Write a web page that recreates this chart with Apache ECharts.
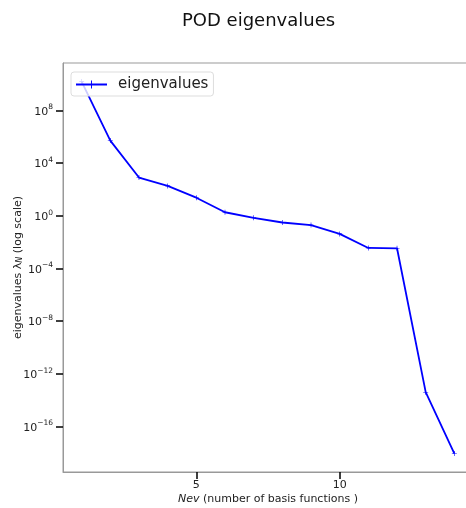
<!DOCTYPE html>
<html>
<head>
<meta charset="utf-8">
<script src="https://cdn.jsdelivr.net/npm/echarts@6/dist/echarts.min.js"></script>
<style>
  html, body { margin: 0; padding: 0; background: #fff; overflow: hidden; }
  /* the axes box runs a little past the right edge of the window */
  #chart { width: 473px; height: 508px; }
</style>
</head>
<body>
<div id="chart"></div>
<script>
// Number of retained basis functions
const nev = [1, 2, 3, 4, 5, 6, 7, 8, 9, 10, 11, 12, 13, 14];
// POD eigenvalues for each mode
const eigenvalues = [1.5e10, 5.0e5, 7.8e2, 1.8e2, 2.3e1, 1.8, 0.68, 0.30, 0.19, 0.041,
                     3.5e-3, 3.3e-3, 3.9e-14, 8.5e-19];
// Tick positions
const xTicks = [5, 10];
const yTicks = [1e-16, 1e-12, 1e-8, 1e-4, 1e0, 1e4, 1e8];

const FONT = 'DejaVu Sans';
const TXT = '#222';
const SPINE = '#999';

function powLabel(v) {
  const e = Math.round(Math.log10(v));
  const s = String(e).replace('-', '\u2212');
  return '{b|10}{s|' + s + '}';
}

const plusSymbol = 'path://M0,2.2H5V2.8H0Z M2.2,0H2.8V5H2.2Z';

const chart = echarts.init(document.getElementById('chart'), null, { renderer: 'canvas' });
chart.setOption({
  animation: false,
  backgroundColor: '#fff',
  textStyle: { fontFamily: FONT, color: TXT },
  title: {
    text: 'POD eigenvalues',
    left: 177, top: 7,
    textStyle: { fontFamily: FONT, fontSize: 18, fontWeight: 'normal', color: '#111' }
  },
  legend: {
    left: 71, top: 72,
    padding: [5, 5, 4, 4],
    itemWidth: 31, itemHeight: 10,
    backgroundColor: 'rgba(255,255,255,0.8)',
    borderColor: '#ddd', borderWidth: 1, borderRadius: 3,
    textStyle: { fontFamily: FONT, fontSize: 15, color: TXT, padding: [0, 0, 0, 6] },
    data: ['eigenvalues']
  },
  grid: {
    left: 63, top: 63, right: 0, bottom: 36,
    outerBoundsMode: 'none',
    show: true, borderColor: SPINE, borderWidth: 1,
    containLabel: false
  },
  xAxis: {
    type: 'value',
    min: 0.35, max: 14.65,
    name: '{i|Nev} (number of basis functions )',
    nameLocation: 'middle', nameGap: 22, nameMoveOverlap: false,
    nameTextStyle: {
      fontFamily: FONT, fontSize: 11, color: TXT,
      rich: { i: { fontStyle: 'italic', fontFamily: FONT, fontSize: 11, color: TXT } }
    },
    splitLine: { show: false },
    axisLine: { show: true, lineStyle: { color: SPINE, width: 1 } },
    axisTick: { show: true, length: 7, lineStyle: { color: '#000', width: 1.5 }, customValues: xTicks },
    axisLabel: { fontFamily: FONT, fontSize: 11, color: TXT, margin: 8, customValues: xTicks }
  },
  yAxis: {
    type: 'log', logBase: 10,
    min: Math.pow(10, -19.47), max: Math.pow(10, 11.59),
    name: 'eigenvalues \u03bb{sub|N} (log scale)',
    nameLocation: 'middle', nameRotate: 90, nameGap: 39, nameMoveOverlap: false,
    nameTextStyle: {
      fontFamily: FONT, fontSize: 11, color: TXT,
      rich: { sub: { fontStyle: 'italic', fontFamily: FONT, fontSize: 8, color: TXT, verticalAlign: 'bottom', padding: [4, 0, 0, 0] } }
    },
    splitLine: { show: false },
    axisLine: { show: true, lineStyle: { color: SPINE, width: 1 } },
    axisTick: { show: true, length: 7, lineStyle: { color: '#000', width: 1.5 }, customValues: yTicks },
    axisLabel: {
      customValues: yTicks,
      margin: 10,
      formatter: powLabel,
      rich: {
        b: { fontFamily: FONT, fontSize: 11, color: TXT, verticalAlign: 'bottom', lineHeight: 14 },
        s: { fontFamily: FONT, fontSize: 7.5, color: TXT, verticalAlign: 'top', lineHeight: 14, padding: [0, 0, 5, 0] }
      }
    }
  },
  series: [{
    name: 'eigenvalues',
    type: 'line',
    data: nev.map((n, i) => [n, eigenvalues[i]]),
    lineStyle: { color: '#0000ff', width: 1.8 },
    itemStyle: { color: '#0000ff' },
    symbol: plusSymbol,
    symbolSize: 5,
    showSymbol: true
  }]
});
</script>
</body>
</html>
